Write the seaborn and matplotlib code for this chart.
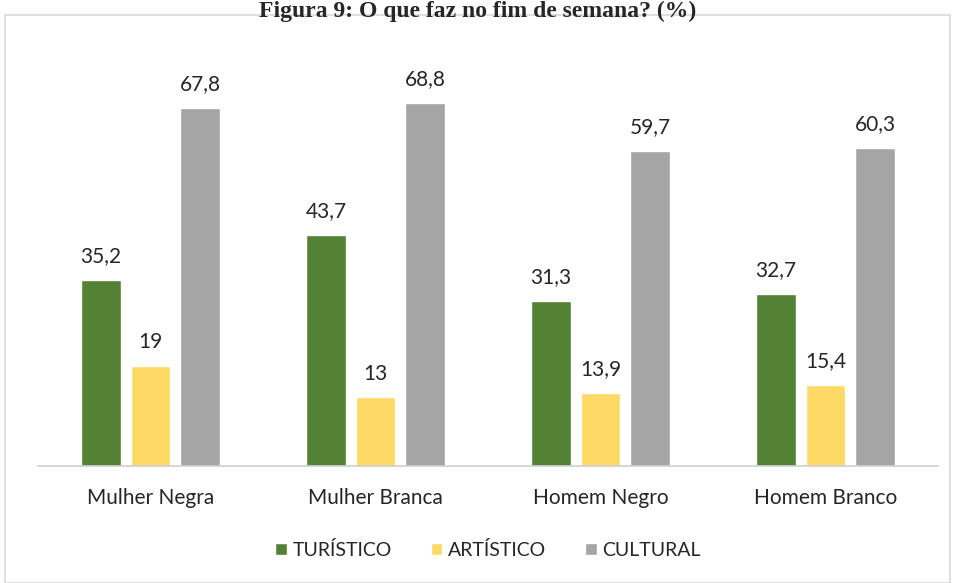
import matplotlib
matplotlib.use("Agg")
import matplotlib.pyplot as plt
import matplotlib.patches as mpatches
import pandas as pd
import seaborn as sns

groups = ["Mulher Negra", "Mulher Branca", "Homem Negro", "Homem Branco"]
series = ["TURÍSTICO", "ARTÍSTICO", "CULTURAL"]
turistico = [35.2, 43.7, 31.3, 32.7]
artistico = [19, 13, 13.9, 15.4]
cultural = [67.8, 68.8, 59.7, 60.3]
colors = ["#548235", "#FFD966", "#A5A5A5"]

df = pd.DataFrame({
    "grupo": groups * 3,
    "tipo": [s for s in series for _ in groups],
    "valor": turistico + artistico + cultural,
})

sns.set_style("white")
plt.rcParams["font.family"] = ["Lato", "DejaVu Sans"]

fig = plt.figure(figsize=(9.56, 5.83), dpi=100)
fig.patches.append(mpatches.Rectangle((5 / 956, 0.0), 945 / 956, 568 / 583,
                                      transform=fig.transFigure, fill=False,
                                      edgecolor="#d9d9d9", linewidth=1.2))
fig.text(0.5, 0.999, "Figura 9: O que faz no fim de semana? (%)", ha="center", va="top",
         family="Liberation Serif", fontweight="bold", fontsize=17)

ax = fig.add_axes([38 / 956, (583 - 466) / 583, 900 / 956, 422 / 583])
sns.barplot(data=df, x="grupo", y="valor", hue="tipo", palette=colors,
            width=0.66, gap=0.21, saturation=1, ax=ax)
ax.set_ylim(0, 80)
ax.set_xlim(-0.5, 3.5)

for cont in ax.containers:
    labels = [f"{v:g}".replace(".", ",") for v in cont.datavalues]
    ax.bar_label(cont, labels=labels, padding=10, fontsize=15, color="#262626")

for s in ["top", "right", "left"]:
    ax.spines[s].set_visible(False)
ax.spines["bottom"].set_color("#d0d0d0")
ax.spines["bottom"].set_linewidth(1.2)
ax.set_yticks([])
ax.set_xlabel("")
ax.set_ylabel("")
ax.tick_params(axis="x", length=0, labelsize=15, pad=16, colors="#262626")

ax.legend(loc="center", bbox_to_anchor=(0.5, (583 - 550 - 117) / 422), ncol=3,
          frameon=False, fontsize=14, handlelength=0.6, handleheight=0.6,
          handletextpad=0.3, columnspacing=2.0, labelcolor="#262626")

fig.savefig("out.png", dpi=100)
